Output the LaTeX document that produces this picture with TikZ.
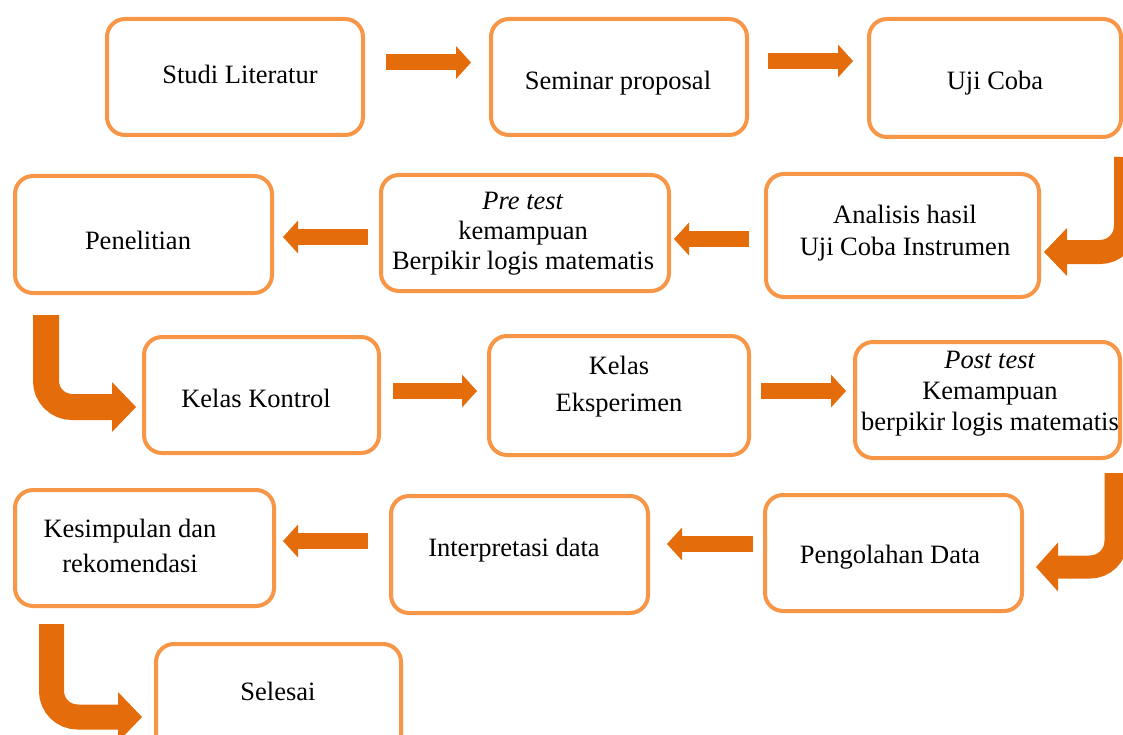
\documentclass[tikz,border=0pt]{standalone}
\usepackage{fontspec}
\setmainfont{Liberation Serif}
\usetikzlibrary{arrows.meta,calc}
\definecolor{boxorange}{HTML}{F79646}
\definecolor{arroworange}{HTML}{E46C0A}
\begin{document}
\begin{tikzpicture}[x=1pt,y=-1pt,
  box/.style={draw=boxorange, line width=4pt, rounded corners=18pt, fill=white,
    inner sep=0pt, outer sep=0pt},
  txt/.style={font=\fontsize{26.5}{31}\selectfont, align=center, inner sep=0pt, text=black},
  flow/.style={draw=arroworange, line width=16pt,
    -{Triangle[length=15pt,width=33pt,line width=0pt]}},
  bentarrow/.style={draw=arroworange, line width=25pt, rounded corners=26pt,
    -{Triangle[length=24pt,width=50pt,line width=0pt]}}]
\path[use as bounding box] (0,0) rectangle (1123,735);
\clip (0,0) rectangle (1123,735);
% boxes
\node[box, minimum width=256pt, minimum height=116pt] (studi) at (235,77) {};
\node[box, minimum width=256pt, minimum height=116pt] (seminar) at (619,77) {};
\node[box, minimum width=252pt, minimum height=118pt] (uji) at (995,78) {};
\node[box, minimum width=273pt, minimum height=123pt] (analisis) at (902.5,235.5) {};
\node[box, minimum width=288pt, minimum height=116pt] (pretest) at (525,233) {};
\node[box, minimum width=257pt, minimum height=117pt] (penelitian) at (143.5,234.5) {};
\node[box, minimum width=235pt, minimum height=116pt] (kontrol) at (261.5,395) {};
\node[box, minimum width=260pt, minimum height=119pt] (eksperimen) at (619,395.5) {};
\node[box, minimum width=265pt, minimum height=116pt] (post) at (987.5,400) {};
\node[box, minimum width=257pt, minimum height=116pt] (pengolahan) at (893.5,553) {};
\node[box, minimum width=257pt, minimum height=117pt] (interpretasi) at (519.5,554.5) {};
\node[box, minimum width=259pt, minimum height=116pt] (kesimpulan) at (144.5,548) {};
\node[box, minimum width=245pt, minimum height=116pt] (selesai) at (278.5,702) {};
% texts
\node[txt] (tstudi) at (240,74) {Studi Literatur};
\node[txt] (tseminar) at (618,83) {Seminar proposal};
\node[txt] (tuji) at (995,83) {Uji Coba};
\node[txt, font=\fontsize{26.5}{32}\selectfont] (tanalisis) at (905,233) {Analisis hasil\\Uji Coba Instrumen};
\node[txt, font=\fontsize{26.5}{30}\selectfont] (tpretest) at (523,234) {\textit{Pre test}\\kemampuan\\Berpikir logis matematis};
\node[txt] (tpenelitian) at (138,240) {Penelitian};
\node[txt] (tkontrol) at (256,398) {Kelas Kontrol};
\node[txt, font=\fontsize{26.5}{37}\selectfont] (teksperimen) at (619,387) {Kelas\\Eksperimen};
\node[txt] (tpost) at (990,394) {\textit{Post test}\\Kemampuan\\berpikir logis matematis};
\node[txt] (tpengolahan) at (890,557) {Pengolahan Data};
\node[txt] (tinterpretasi) at (514,550) {Interpretasi data};
\node[txt, font=\fontsize{26.5}{35}\selectfont] (tkesimpulan) at (130,546) {Kesimpulan dan\\rekomendasi};
\node[txt] (tselesai) at (278,691) {Selesai};
% straight arrows
\draw[flow, shorten <=23pt, shorten >=20pt] ($(studi.east)+(0,-14.5)$) -- ($(seminar.west)+(0,-14.5)$);
\draw[flow, shorten <=21pt, shorten >=16pt] ($(seminar.east)+(0,-16)$) -- ($(uji.west)+(0,-17)$);
\draw[flow, shorten <=17pt, shorten >=5pt] ($(analisis.west)+(0,3.5)$) -- ($(pretest.east)+(0,6)$);
\draw[flow, shorten <=13pt, shorten >=11pt] ($(pretest.west)+(0,4)$) -- ($(penelitian.east)+(0,2.5)$);
\draw[flow, shorten <=14pt, shorten >=12pt] ($(kontrol.east)+(0,-4)$) -- ($(eksperimen.west)+(0,-4.5)$);
\draw[flow, shorten <=12pt, shorten >=9pt] ($(eksperimen.east)+(0,-4.5)$) -- ($(post.west)+(0,-9)$);
\draw[flow, shorten <=12pt, shorten >=19pt] ($(pengolahan.west)+(0,-9)$) -- ($(interpretasi.east)+(0,-10.5)$);
\draw[flow, shorten <=23pt, shorten >=9pt] ($(interpretasi.west)+(0,-13.5)$) -- ($(kesimpulan.east)+(0,-7)$);
% bent arrows
\draw[bentarrow, line width=24pt, -{Triangle[length=23pt,width=48pt,line width=0pt]}, shorten >=5pt]
  ($(uji.south east)+(5,20)$) |- ($(analisis.east)+(0,16.5)$);
\draw[bentarrow, line width=23pt, -{Triangle[length=22pt,width=49pt,line width=0pt]}, shorten >=14pt]
  ($(post.south east)+(-4,15)$) |- ($(pengolahan.east)+(0,14)$);
\draw[bentarrow, line width=26pt, shorten >=8pt]
  ($(penelitian.south west)+(31,22)$) |- ($(kontrol.west)+(0,12)$);
\draw[bentarrow, shorten >=14pt]
  ($(kesimpulan.south west)+(36.5,18)$) |- ($(selesai.west)+(0,15)$);
\end{tikzpicture}
\end{document}
